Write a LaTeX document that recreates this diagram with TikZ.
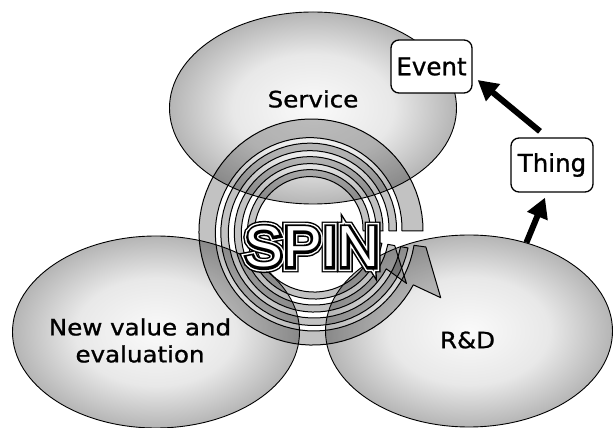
\documentclass[tikz,border=0pt]{standalone}
\usepackage{fontspec}
\setmainfont{DejaVu Sans}[FakeBold=1]
\newfontfamily\spinhaloA[FakeBold=19]{Liberation Sans}
\newfontfamily\spinhaloB[FakeBold=14]{Liberation Sans}
\newfontfamily\spinhaloC[FakeBold=9]{Liberation Sans}
\newfontfamily\spincore{Liberation Sans}
\usetikzlibrary{shapes.geometric,arrows.meta,calc}
\pgfdeclareradialshading{fieldfill}{\pgfpoint{0bp}{0bp}}{color(0bp)=(black!2); color(14bp)=(black!9); color(25bp)=(black!29); color(36bp)=(black!34); color(50bp)=(black!34)}
\begin{document}
\begin{tikzpicture}[x=1pt,y=1pt,
  field/.style={ellipse, draw=black, line width=0.9pt, minimum width=287pt,
    minimum height=192pt, inner sep=0pt, shading=fieldfill},
  fieldtext/.style={font=\fontsize{22.5}{28}\selectfont, align=center, inner sep=0pt},
  tag/.style={draw=black, line width=1.3pt, rounded corners=8pt, fill=white,
    minimum width=81pt, minimum height=53pt, inner sep=0pt,
    font=\fontsize{24.5}{28}\selectfont},
  fatarrow/.style={line width=6pt, -{Triangle[length=20pt,width=21pt]}},
  band/.style={fill=black, fill opacity=0.24, draw=black, line width=1pt, line join=round},
  spintext/.style={inner sep=0pt, font=\fontsize{58}{60}\selectfont},
]
\useasboundingbox (0,0) rectangle (613,428);
\def\cx{312}\def\cy{197}

% the three fields
\node[field] (svc) at (313,320) {};
\node[field] (nve) at (156,96) {};
\node[field] (rd)  at (469,97) {};

% spiral: inner turns
\path[band] plot[domain=0:350,samples=70] ({\cx+(58+13*\x/350)*cos(\x)},{\cy+(58+13*\x/350)*sin(\x)})
  -- plot[domain=350:0,samples=70] ({\cx+(51+13*\x/350)*cos(\x)},{\cy+(51+13*\x/350)*sin(\x)}) -- cycle;
\path[band] plot[domain=0:333,samples=70] ({\cx+(71+13*\x/350)*cos(\x)},{\cy+(71+13*\x/350)*sin(\x)})
  -- ({\cx+108*cos(331)},{\cy+108*sin(331)})
  -- ({\cx+84*cos(350)},{\cy+84*sin(350)})
  -- plot[domain=350:0,samples=70] ({\cx+(64+13*\x/350)*cos(\x)},{\cy+(64+13*\x/350)*sin(\x)}) -- cycle;
\path[band] plot[domain=0:350,samples=70] ({\cx+(84.5+13*\x/350)*cos(\x)},{\cy+(84.5+13*\x/350)*sin(\x)})
  -- plot[domain=350:0,samples=70] ({\cx+(77+13*\x/350)*cos(\x)},{\cy+(77+13*\x/350)*sin(\x)}) -- cycle;
% spiral: wide outer turn with its barb
\path[band] plot[domain=0:332,samples=80] ({\cx+(111+4*\x/352)*cos(\x)},{\cy+(111+4*\x/352)*sin(\x)})
  -- ({\cx+145*cos(332.6)},{\cy+145*sin(332.6)})
  -- ({\cx+115*cos(352)},{\cy+115*sin(352)})
  -- plot[domain=352:0,samples=80] ({\cx+(90+13*\x/352)*cos(\x)},{\cy+(90+13*\x/352)*sin(\x)}) -- cycle;

% outlined SPIN lettering
\node[spintext, text=black] (spinA) at (312,181) {\spinhaloA SPIN};
\node[spintext, text=white] (spinB) at (312,181) {\spinhaloB SPIN};
\node[spintext, text=black] (spinC) at (312,181) {\spinhaloC SPIN};
\node[spintext, text=white] (spinD) at (312,181) {\spincore SPIN};

% field labels
\node[fieldtext] (svclab) at (313,329) {\scalebox{1.09}[1]{Service}};
\node[fieldtext] (nvelab) at (140,87.5) {\scalebox{1.09}[1]{New value and}\\[-1pt]\scalebox{1.09}[1]{evaluation}};
\node[fieldtext] (rdlab)  at (467.5,88) {\scalebox{1.09}[1]{R\&D}};

% outcome tags
\node[tag] (event) at (431.5,361.5) {Event};
\node[tag, minimum width=82pt, minimum height=54pt] (thing) at (552,263) {Thing};

\draw[fatarrow] (rd.57) -- ($(thing.south)+(-7,-5)$);
\draw[fatarrow] ($(thing.north)+(-12,6)$) -- ($(event.east)+(5,-13.5)$);
\end{tikzpicture}
\end{document}
